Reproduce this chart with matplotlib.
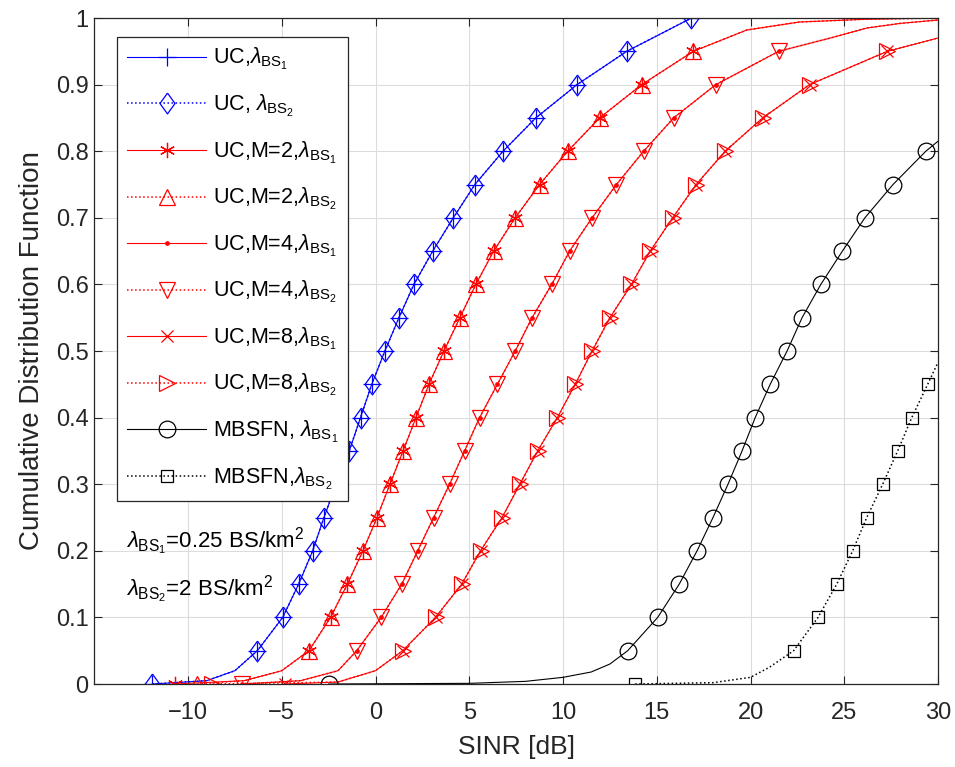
import numpy as np
import matplotlib
matplotlib.use('Agg')
import matplotlib.pyplot as plt

plt.rcParams['font.family'] = ['Liberation Sans', 'DejaVu Sans']
plt.rcParams['mathtext.fontset'] = 'custom'
plt.rcParams['mathtext.rm'] = 'Liberation Sans'
plt.rcParams['mathtext.it'] = 'Liberation Sans:italic'

# CDF levels where the markers sit
cdf_levels = [0.0, 0.05, 0.10, 0.15, 0.20, 0.25, 0.30, 0.35, 0.40, 0.45, 0.50,
              0.55, 0.60, 0.65, 0.70, 0.75, 0.80, 0.85, 0.90, 0.95, 1.0]

# SINR [dB] at each CDF level
uc_x = [-11.9, -6.3, -4.95, -4.1, -3.35, -2.75, -2.1, -1.4, -0.8, -0.2, 0.5,
        1.25, 2.05, 3.05, 4.15, 5.3, 6.8, 8.55, 10.75, 13.4, 16.85]
m2_x = [-10.7, -3.55, -2.4, -1.5, -0.67, 0.08, 0.77, 1.47, 2.16, 2.85, 3.65,
        4.5, 5.35, 6.3, 7.45, 8.75, 10.25, 11.95, 14.2, 16.95]
m2_x0_bs2 = -9.5
m4_x = [-7.1, -1.0, 0.3, 1.4, 2.25, 3.1, 3.95, 4.75, 5.55, 6.5, 7.45,
        8.35, 9.4, 10.35, 11.55, 12.85, 14.3, 15.9, 18.15, 21.5]
m4_x0_bs2 = -7.1
m8_x = [-4.85, 1.45, 3.2, 4.6, 5.6, 6.75, 7.7, 8.65, 9.7, 10.65, 11.55,
        12.5, 13.65, 14.65, 15.85, 17.1, 18.65, 20.65, 23.15, 27.3]
m8_x0_bs2 = -8.7
mb1_x = [-2.5, 13.45, 15.05, 16.2, 17.15, 18.0, 18.8, 19.55, 20.25, 21.05, 21.95,
         22.75, 23.75, 24.9, 26.1, 27.6, 29.35]
mb2_x = [13.85, 22.3, 23.6, 24.6, 25.45, 26.2, 27.05, 27.85, 28.6, 29.45]

# extra points along the curves between/after markers
uc_tail_x = [-9.0, -7.5]
uc_tail_y = [0.005, 0.02]
m2_tail_x = [-7.0, -5.0, 19.8, 22.6, 26.0, 30.0]
m2_tail_y = [0.005, 0.02, 0.982, 0.994, 0.998, 1.0]
m4_tail_x = [-4.0, -2.0, 24.4, 26.2, 28.0, 30.0]
m4_tail_y = [0.005, 0.02, 0.971, 0.985, 0.992, 0.997]
m8_tail_x = [-2.0, 0.0, 30.0]
m8_tail_y = [0.003, 0.02, 0.97]
mb1_tail_x = [5.0, 8.0, 10.0, 11.5, 12.5, 30.0]
mb1_tail_y = [0.001, 0.004, 0.01, 0.018, 0.03, 0.815]
mb2_tail_x = [18.0, 20.0, 21.0, 30.0]
mb2_tail_y = [0.002, 0.01, 0.025, 0.483]

labels = [r'UC,$\lambda_{\mathrm{BS}_1}$', r'UC, $\lambda_{\mathrm{BS}_2}$',
          r'UC,M=2,$\lambda_{\mathrm{BS}_1}$', r'UC,M=2,$\lambda_{\mathrm{BS}_2}$',
          r'UC,M=4,$\lambda_{\mathrm{BS}_1}$', r'UC,M=4,$\lambda_{\mathrm{BS}_2}$',
          r'UC,M=8,$\lambda_{\mathrm{BS}_1}$', r'UC,M=8,$\lambda_{\mathrm{BS}_2}$',
          r'MBSFN, $\lambda_{\mathrm{BS}_1}$', r'MBSFN,$\lambda_{\mathrm{BS}_2}$']

diamond = [(0, 1), (0.72, 0), (0, -1), (-0.72, 0), (0, 1)]


def build(xm, tail_x, tail_y):
    ym = cdf_levels[:len(xm)]
    x = list(xm) + list(tail_x)
    y = list(ym) + list(tail_y)
    order = np.argsort(y, kind='stable')
    x = np.array(x)[order]
    y = np.array(y)[order]
    # marker indices = positions of the level points after sorting
    marks = [i for i, o in enumerate(order) if o < len(xm)]
    return x, y, marks


fig = plt.figure(figsize=(9.55, 7.67), dpi=100)
ax = fig.add_axes([0.0987, 0.1082, 0.8835, 0.8683])

series = [
    (uc_x, uc_tail_x, uc_tail_y, 'b', '-', '+', 13),
    (uc_x, uc_tail_x, uc_tail_y, 'b', ':', diamond, 15),
    (m2_x, m2_tail_x, m2_tail_y, 'r', '-', (6, 2, 0), 11),
    ([m2_x0_bs2] + m2_x[1:], m2_tail_x, m2_tail_y, 'r', ':', '^', 12),
    (m4_x, m4_tail_x, m4_tail_y, 'r', '-', '.', 5),
    ([m4_x0_bs2] + m4_x[1:], m4_tail_x, m4_tail_y, 'r', ':', 'v', 12),
    (m8_x, m8_tail_x, m8_tail_y, 'r', '-', 'x', 9),
    ([m8_x0_bs2] + m8_x[1:], m8_tail_x, m8_tail_y, 'r', ':', '>', 12),
    (mb1_x, mb1_tail_x, mb1_tail_y, 'k', '-', 'o', 12),
    (mb2_x, mb2_tail_x, mb2_tail_y, 'k', ':', 's', 9),
]

for (xm, tx, ty, c, ls, mk, ms), lab in zip(series, labels):
    x, y, marks = build(xm, tx, ty)
    lw = 0.8 if ls == '-' else 1.1
    ax.plot(x, y, color=c, linestyle=ls, linewidth=lw, marker=mk, markersize=ms,
            markevery=marks, markerfacecolor=c if mk == '.' else 'none',
            markeredgecolor=c, markeredgewidth=0.9, label=lab)

ax.set_xlim(-15, 30)
ax.set_ylim(0, 1)
ax.set_xticks([-10, -5, 0, 5, 10, 15, 20, 25, 30])
ax.set_yticks(np.arange(0, 1.01, 0.1))
ax.set_yticklabels(['0', '0.1', '0.2', '0.3', '0.4', '0.5', '0.6', '0.7', '0.8', '0.9', '1'])
ax.grid(True, color='#dcdcdc', linewidth=0.8)
ax.set_axisbelow(True)
ax.tick_params(direction='in', top=True, right=True, labelsize=17, length=6,
               color='#262626', labelcolor='#262626')
ax.tick_params(axis='x', pad=13)
ax.tick_params(axis='y', pad=4)
for s in ax.spines.values():
    s.set_color('#262626')
    s.set_linewidth(0.9)

ax.set_xlabel('SINR [dB]', fontsize=19, color='#262626', labelpad=8)
ax.set_ylabel('Cumulative Distribution Function', fontsize=20, color='#262626', labelpad=8)

ax.text(-13.3, 0.203, r'$\lambda_{\mathrm{BS}_1}$=0.25 BS/km$^2$', fontsize=16)
ax.text(-13.3, 0.131, r'$\lambda_{\mathrm{BS}_2}$=2 BS/km$^2$', fontsize=16)

leg = ax.legend(loc='upper left', bbox_to_anchor=(0.027, 0.972), borderaxespad=0,
                fontsize=15.5, handlelength=3.7, handletextpad=0.3, labelspacing=0.95,
                fancybox=False, framealpha=1, edgecolor='#262626', borderpad=0.45)
leg.get_frame().set_linewidth(0.9)

fig.savefig('out.png', dpi=100)
